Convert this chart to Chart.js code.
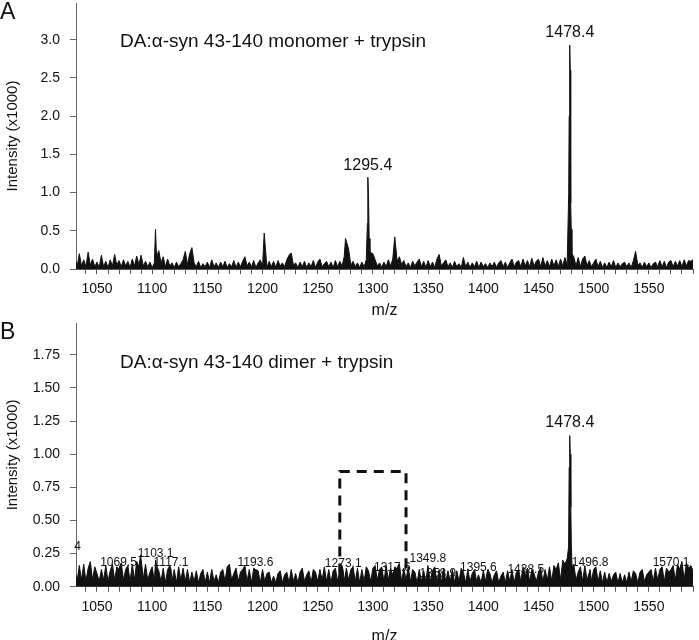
<!DOCTYPE html>
<html>
<head>
<meta charset="utf-8">
<script src="https://cdn.jsdelivr.net/npm/chart.js@4.4.0/dist/chart.umd.min.js"></script>
<style>
  html, body { margin: 0; padding: 0; background: #fff; overflow: hidden; }
  .panel { position: absolute; left: 0; width: 699px; }
  #panelA { top: 0; height: 320px; }
  #panelB { top: 320px; height: 326px; }
</style>
</head>
<body>
<div class="panel" id="panelA"><canvas id="chartA"></canvas></div>
<div class="panel" id="panelB"><canvas id="chartB"></canvas></div>
<script>
// noise spectra, sampled every 2 m/z from 1030 to 1590 (intensity x1000)
const mzStart = 1030;
const mzStep = 2;

const noiseA = [
  0.14, 0.03, 0.20, 0.04, 0.12, 0.03, 0.22, 0.05, 0.13, 0.03,
  0.09, 0.02, 0.18, 0.03, 0.10, 0.02, 0.12, 0.04, 0.19, 0.05,
  0.11, 0.03, 0.12, 0.04, 0.10, 0.02, 0.13, 0.04, 0.17, 0.06,
  0.18, 0.04, 0.10, 0.03, 0.09, 0.02, 0.08, 0.16, 0.24, 0.08,
  0.16, 0.03, 0.13, 0.04, 0.08, 0.02, 0.09, 0.03, 0.07, 0.12,
  0.23, 0.06, 0.20, 0.28, 0.08, 0.03, 0.10, 0.02, 0.07, 0.03,
  0.09, 0.02, 0.12, 0.03, 0.08, 0.02, 0.09, 0.03, 0.10, 0.02,
  0.07, 0.03, 0.11, 0.02, 0.09, 0.03, 0.10, 0.16, 0.04, 0.09,
  0.03, 0.11, 0.02, 0.08, 0.12, 0.03, 0.07, 0.02, 0.10, 0.03,
  0.10, 0.02, 0.11, 0.04, 0.08, 0.03, 0.12, 0.18, 0.21, 0.05,
  0.08, 0.02, 0.09, 0.03, 0.10, 0.02, 0.08, 0.03, 0.11, 0.02,
  0.09, 0.13, 0.03, 0.07, 0.10, 0.03, 0.09, 0.02, 0.11, 0.03,
  0.10, 0.04, 0.16, 0.06, 0.26, 0.05, 0.10, 0.03, 0.08, 0.02,
  0.09, 0.03, 0.12, 0.06, 0.25, 0.20, 0.12, 0.04, 0.08, 0.02,
  0.09, 0.03, 0.12, 0.04, 0.13, 0.03, 0.10, 0.16, 0.06, 0.11,
  0.03, 0.08, 0.02, 0.10, 0.04, 0.09, 0.13, 0.03, 0.10, 0.02,
  0.11, 0.03, 0.09, 0.02, 0.13, 0.19, 0.04, 0.08, 0.12, 0.03,
  0.08, 0.02, 0.10, 0.03, 0.07, 0.02, 0.15, 0.03, 0.09, 0.02,
  0.08, 0.03, 0.10, 0.02, 0.09, 0.03, 0.07, 0.02, 0.08, 0.03,
  0.09, 0.02, 0.08, 0.11, 0.03, 0.09, 0.02, 0.08, 0.13, 0.03,
  0.09, 0.11, 0.03, 0.13, 0.04, 0.11, 0.03, 0.14, 0.04, 0.10,
  0.13, 0.03, 0.15, 0.04, 0.11, 0.03, 0.13, 0.04, 0.12, 0.03,
  0.13, 0.04, 0.15, 0.05, 0.10, 0.13, 0.16, 0.04, 0.15, 0.03,
  0.13, 0.17, 0.04, 0.11, 0.03, 0.08, 0.13, 0.03, 0.10, 0.02,
  0.08, 0.02, 0.09, 0.03, 0.11, 0.02, 0.08, 0.03, 0.07, 0.09,
  0.03, 0.08, 0.02, 0.11, 0.23, 0.05, 0.08, 0.02, 0.09, 0.03,
  0.08, 0.02, 0.07, 0.09, 0.03, 0.11, 0.03, 0.10, 0.02, 0.09,
  0.11, 0.03, 0.10, 0.04, 0.11, 0.03, 0.12, 0.04, 0.11, 0.10,
  0.12
];

const peakMzA = [1103.0, 1201.5, 1275.2, 1295.0, 1295.4, 1296.0, 1296.6, 1297.3, 1319.8,
  1477.4, 1477.8, 1478.3, 1478.8, 1479.2, 1479.7, 1480.3];
const peakIntA = [0.52, 0.47, 0.40, 0.60, 1.20, 0.96, 0.40, 0.22, 0.42,
  1.00, 2.00, 2.93, 2.60, 0.86, 0.52, 0.20];

const noiseB = [
  0.12, 0.04, 0.16, 0.05, 0.17, 0.04, 0.14, 0.19, 0.05, 0.15,
  0.10, 0.04, 0.13, 0.05, 0.16, 0.04, 0.12, 0.17, 0.05, 0.15,
  0.06, 0.18, 0.05, 0.13, 0.16, 0.04, 0.17, 0.05, 0.19, 0.15,
  0.21, 0.06, 0.17, 0.05, 0.11, 0.15, 0.04, 0.16, 0.12, 0.04,
  0.14, 0.03, 0.13, 0.16, 0.04, 0.13, 0.03, 0.15, 0.05, 0.14,
  0.04, 0.13, 0.03, 0.11, 0.04, 0.12, 0.03, 0.10, 0.13, 0.03,
  0.11, 0.03, 0.13, 0.04, 0.09, 0.03, 0.11, 0.13, 0.04, 0.15,
  0.17, 0.05, 0.10, 0.14, 0.04, 0.11, 0.13, 0.16, 0.04, 0.13,
  0.03, 0.14, 0.04, 0.12, 0.03, 0.13, 0.04, 0.10, 0.11, 0.03,
  0.08, 0.03, 0.10, 0.12, 0.03, 0.09, 0.11, 0.03, 0.13, 0.04,
  0.10, 0.03, 0.11, 0.14, 0.04, 0.09, 0.12, 0.03, 0.13, 0.11,
  0.04, 0.13, 0.05, 0.15, 0.04, 0.13, 0.03, 0.12, 0.14, 0.04,
  0.13, 0.16, 0.04, 0.14, 0.05, 0.13, 0.15, 0.04, 0.14, 0.03,
  0.13, 0.04, 0.15, 0.12, 0.04, 0.14, 0.16, 0.05, 0.13, 0.15,
  0.04, 0.16, 0.05, 0.14, 0.04, 0.15, 0.13, 0.17, 0.04, 0.14,
  0.05, 0.15, 0.04, 0.13, 0.11, 0.03, 0.13, 0.04, 0.12, 0.04,
  0.13, 0.04, 0.12, 0.15, 0.04, 0.13, 0.03, 0.14, 0.04, 0.12,
  0.04, 0.13, 0.03, 0.12, 0.04, 0.14, 0.11, 0.03, 0.13, 0.04,
  0.10, 0.13, 0.04, 0.14, 0.03, 0.12, 0.04, 0.13, 0.10, 0.03,
  0.09, 0.12, 0.03, 0.08, 0.11, 0.03, 0.12, 0.04, 0.13, 0.03,
  0.11, 0.13, 0.04, 0.15, 0.05, 0.14, 0.04, 0.13, 0.10, 0.04,
  0.11, 0.14, 0.04, 0.13, 0.05, 0.15, 0.04, 0.16, 0.13, 0.18,
  0.05, 0.20, 0.17, 0.21, 0.06, 0.16, 0.17, 0.05, 0.11, 0.15,
  0.04, 0.16, 0.05, 0.17, 0.04, 0.13, 0.15, 0.04, 0.12, 0.03,
  0.11, 0.03, 0.10, 0.04, 0.09, 0.11, 0.03, 0.10, 0.03, 0.09,
  0.03, 0.11, 0.04, 0.12, 0.10, 0.03, 0.11, 0.13, 0.04, 0.09,
  0.11, 0.13, 0.04, 0.14, 0.05, 0.13, 0.15, 0.04, 0.14, 0.11,
  0.13, 0.16, 0.05, 0.17, 0.13, 0.19, 0.05, 0.18, 0.14, 0.16,
  0.12
];

const peakMzB = [1069.5, 1089.5, 1103.1, 1117.1, 1193.6, 1273.1, 1317.6, 1349.8, 1358.9,
  1395.6, 1438.5, 1477.3, 1477.8, 1478.3, 1478.8, 1479.3, 1479.8, 1480.4, 1496.8, 1570.1];
const peakIntB = [0.13, 0.24, 0.20, 0.13, 0.13, 0.12, 0.09, 0.16, 0.07,
  0.09, 0.08, 0.30, 0.90, 1.14, 1.00, 0.60, 0.30, 0.15, 0.13, 0.13];

// peak annotations
const labelTextA = ['1478.4', '1295.4'];
const labelMzA = [1478.4, 1295.4];
const labelYA = [3.09, 1.35];

const labelTextB = ['4', '1069.5', '1103.1', '1117.1', '1193.6', '1273.1', '1317.6',
  '1349.8', '1358.9', '1395.6', '1438.5', '1496.8', '1570.1'];
const labelMzB = [1032.5, 1069.5, 1103.1, 1117.1, 1193.6, 1273.1, 1317.6,
  1349.8, 1358.9, 1395.6, 1438.5, 1496.8, 1570.1];
const labelYB = [0.30, 0.18, 0.25, 0.18, 0.18, 0.17, 0.14, 0.21, 0.10, 0.14, 0.125, 0.18, 0.18];
const bigLabelB = ['1478.4'];
const bigLabelMzB = [1478.4];
const bigLabelYB = [1.24];

// dashed box in panel B
const boxMz = [1270, 1270, 1330, 1330];
const boxInt = [0.10, 0.87, 0.87, 0.12];

const FONT = '"Liberation Sans", Arial, Helvetica, sans-serif';
Chart.defaults.font.family = FONT;
Chart.defaults.color = '#111';

function buildSpectrum(noise, peakMz, peakInt) {
  const pts = [];
  noise.forEach(function(v, i) {
    const mz = mzStart + i * mzStep;
    const near = peakMz.some(function(p) { return Math.abs(p - mz) < 0.9; });
    if (!near) pts.push({ x: mz, y: v });
  });
  peakMz.forEach(function(mz, i) { pts.push({ x: mz, y: peakInt[i] }); });
  pts.sort(function(a, b) { return a.x - b.x; });
  return pts;
}

function makeTextPlugin(cfg) {
  return {
    id: 'panelText',
    afterDatasetsDraw: function(chart) {
      const ctx = chart.ctx;
      const xs = chart.scales.x, ys = chart.scales.y;
      const area = chart.chartArea;
      ctx.save();
      ctx.fillStyle = '#111';
      ctx.textBaseline = 'middle';
      ctx.textAlign = 'left';
      ctx.font = '23px ' + FONT;
      ctx.fillText(cfg.letter, 0, cfg.letterY);
      ctx.font = '19px ' + FONT;
      ctx.fillText(cfg.title, area.left + 44, area.top + cfg.titleDy);
      ctx.textAlign = 'center';
      cfg.groups.forEach(function(g) {
        ctx.font = g.size + 'px ' + FONT;
        g.text.forEach(function(t, i) {
          ctx.fillText(t, xs.getPixelForValue(g.mz[i]), ys.getPixelForValue(g.y[i]));
        });
      });
      ctx.restore();
    }
  };
}

function makeConfig(datasets, yMax, yStep, yDigits, xHeight, plugin) {
  return {
    type: 'line',
    data: { datasets: datasets },
    options: {
      responsive: true,
      maintainAspectRatio: false,
      animation: false,
      layout: { padding: { top: 3, left: 0, right: 6, bottom: 0 } },
      plugins: { legend: { display: false }, tooltip: { enabled: false } },
      elements: { point: { radius: 0 }, line: { tension: 0 } },
      scales: {
        x: {
          type: 'linear',
          min: 1031,
          max: 1590,
          afterFit: function(scale) {
            scale.height = xHeight;
            scale.paddingLeft = 0;
            scale.paddingRight = 0;
          },
          border: { display: true, color: '#555', width: 1 },
          grid: { drawOnChartArea: false, drawTicks: true, tickLength: 5, color: '#555' },
          ticks: {
            stepSize: 10,
            autoSkip: false,
            maxRotation: 0,
            minRotation: 0,
            includeBounds: false,
            padding: 7,
            font: { size: 14 },
            callback: function(v) { return v % 50 === 0 ? String(v) : ''; }
          },
          title: { display: true, text: 'm/z', font: { size: 16 }, padding: { top: 0, bottom: 0 } }
        },
        y: {
          min: 0,
          max: yMax,
          afterFit: function(scale) {
            scale.width = 76;
            scale.paddingTop = 0;
            scale.paddingBottom = 0;
          },
          border: { display: true, color: '#666', width: 1 },
          grid: { drawOnChartArea: false, drawTicks: true, tickLength: 6, color: '#666' },
          ticks: {
            stepSize: yStep,
            includeBounds: false,
            padding: 10,
            font: { size: 14 },
            callback: function(v) { return v.toFixed(yDigits); }
          },
          title: { display: true, text: 'Intensity (x1000)', font: { size: 15 }, padding: { top: 4, bottom: 4 } }
        }
      }
    },
    plugins: [plugin]
  };
}

const spectrumStyle = {
  borderColor: '#111',
  backgroundColor: '#111',
  borderWidth: 1,
  fill: 'origin',
  pointRadius: 0
};

const chartA = new Chart(
  document.getElementById('chartA'),
  makeConfig(
    [Object.assign({ data: buildSpectrum(noiseA, peakMzA, peakIntA) }, spectrumStyle)],
    3.48, 0.5, 1, 51,
    makeTextPlugin({
      letter: 'A', letterY: 13,
      title: 'DA:\u03b1-syn 43-140 monomer + trypsin', titleDy: 39,
      groups: [{ size: 16, text: labelTextA, mz: labelMzA, y: labelYA }]
    })
  )
);

const chartB = new Chart(
  document.getElementById('chartB'),
  makeConfig(
    [
      Object.assign({ data: buildSpectrum(noiseB, peakMzB, peakIntB) }, spectrumStyle),
      {
        data: boxMz.map(function(mz, i) { return { x: mz, y: boxInt[i] }; }),
        borderColor: '#111',
        borderWidth: 3,
        borderDash: [10, 7],
        fill: false,
        pointRadius: 0
      }
    ],
    1.99, 0.25, 2, 59.3,
    makeTextPlugin({
      letter: 'B', letterY: 13,
      title: 'DA:\u03b1-syn 43-140 dimer + trypsin', titleDy: 40,
      groups: [
        { size: 12, text: labelTextB, mz: labelMzB, y: labelYB },
        { size: 16, text: bigLabelB, mz: bigLabelMzB, y: bigLabelYB }
      ]
    })
  )
);
</script>
</body>
</html>
